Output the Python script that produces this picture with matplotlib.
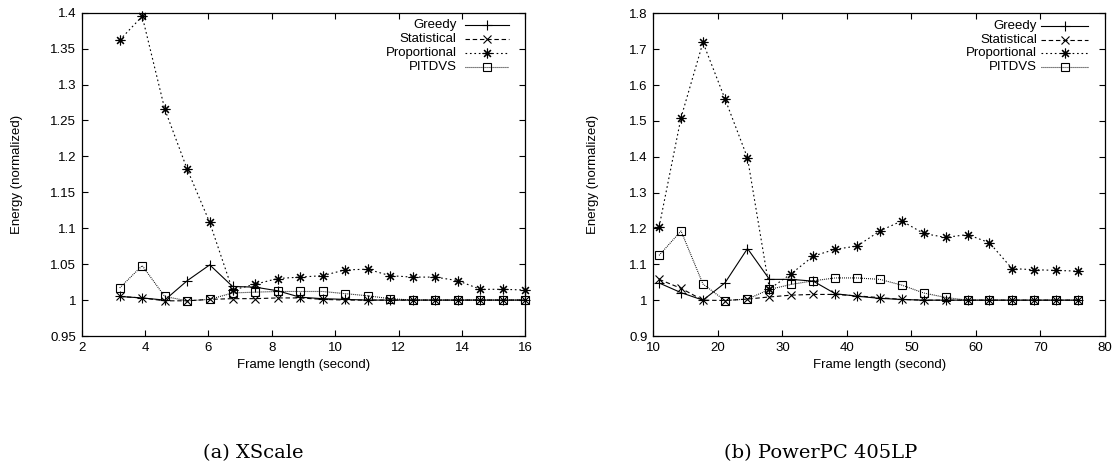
import matplotlib.pyplot as plt
from matplotlib.ticker import FuncFormatter

plt.rcParams['font.family'] = ['Liberation Sans', 'DejaVu Sans']

labels = ["Greedy", "Statistical", "Proportional", "PITDVS"]

# (a) XScale
xs_x = [3.2, 3.91, 4.62, 5.33, 6.04, 6.76, 7.47, 8.18, 8.89, 9.6,
        10.31, 11.02, 11.73, 12.44, 13.16, 13.87, 14.58, 15.29, 16.0]
xs_greedy = [1.005, 1.003, 1.0, 1.027, 1.049, 1.019, 1.018, 1.013, 1.004, 1.002,
             1.001, 1.0, 1.0, 1.0, 1.0, 1.0, 1.0, 1.0, 1.0]
xs_stat = [1.005, 1.003, 0.999, 0.999, 1.001, 1.002, 1.002, 1.003, 1.003, 1.001,
           1.0, 1.0, 1.0, 1.0, 1.0, 1.0, 1.0, 1.0, 1.0]
xs_prop = [1.362, 1.395, 1.266, 1.182, 1.108, 1.014, 1.022, 1.030, 1.032, 1.034,
           1.042, 1.043, 1.034, 1.032, 1.032, 1.027, 1.015, 1.015, 1.014]
xs_pit = [1.017, 1.048, 1.005, 0.999, 1.001, 1.010, 1.011, 1.012, 1.012, 1.012,
          1.009, 1.006, 1.002, 1.0, 1.0, 1.0, 1.0, 1.0, 1.0]

# (b) PowerPC 405LP
pp_x = [10.9, 14.3, 17.7, 21.1, 24.6, 28.0, 31.4, 34.8, 38.2, 41.6,
        45.1, 48.5, 51.9, 55.3, 58.7, 62.1, 65.6, 69.0, 72.4, 75.8]
pp_greedy = [1.048, 1.021, 1.0, 1.048, 1.144, 1.058, 1.058, 1.053, 1.018, 1.011,
             1.005, 1.002, 1.0, 1.0, 1.0, 1.0, 1.0, 1.0, 1.0, 1.0]
pp_stat = [1.058, 1.033, 1.0, 0.999, 1.003, 1.009, 1.014, 1.016, 1.016, 1.012,
           1.007, 1.002, 1.0, 1.0, 1.0, 1.0, 1.0, 1.0, 1.0, 1.0]
pp_prop = [1.204, 1.509, 1.719, 1.562, 1.397, 1.031, 1.074, 1.123, 1.142, 1.151,
           1.193, 1.221, 1.186, 1.175, 1.183, 1.160, 1.088, 1.085, 1.083, 1.081]
pp_pit = [1.125, 1.193, 1.045, 0.999, 1.003, 1.030, 1.044, 1.054, 1.062, 1.062,
          1.058, 1.042, 1.020, 1.0075, 1.0, 1.0, 1.0, 1.0, 1.0, 1.0]

styles = [
    dict(linestyle='-', marker='+', markersize=7),
    dict(linestyle=(0, (4, 2.5)), marker='x', markersize=5.5),
    dict(linestyle=(0, (1.5, 2.5)), marker=(8, 2, 0), markersize=7),
    dict(linestyle=(0, (0.8, 1.0)), marker='s', markersize=5.5,
         markerfacecolor='none'),
]

fs = 9.5


def draw_panel(ax, x, series, xlim, ylim, xticks, yticks, leg_x):
    for ys, st in zip(series, styles):
        ax.plot(x, ys, color='black', linewidth=0.8, markeredgewidth=0.8,
                clip_on=False, **st)

    # gnuplot style legend: right aligned text, sample on the right
    row_y = [0.962, 0.919, 0.876, 0.833]
    for lab, st, yy in zip(labels, styles, row_y):
        ax.text(leg_x[0], yy, lab, transform=ax.transAxes, ha='right',
                va='center', fontsize=fs)
        ax.plot([leg_x[1], leg_x[2]], [yy, yy], transform=ax.transAxes,
                color='black', linewidth=0.8,
                linestyle=st['linestyle'])
        mst = {k: v for k, v in st.items() if k != 'linestyle'}
        ax.plot([(leg_x[1] + leg_x[2]) / 2], [yy], transform=ax.transAxes,
                color='black', markeredgewidth=0.8, linestyle='none', **mst)

    ax.set_xlim(*xlim)
    ax.set_ylim(*ylim)
    ax.set_xticks(xticks)
    ax.set_yticks(yticks)
    ax.yaxis.set_major_formatter(FuncFormatter(lambda v, p: f'{v:.2f}'.rstrip('0').rstrip('.')))
    ax.tick_params(direction='in', top=True, right=True, length=4,
                   width=0.8, labelsize=fs, pad=4)
    for sp in ax.spines.values():
        sp.set_linewidth(0.9)
    ax.set_xlabel("Frame length (second)", fontsize=fs, labelpad=4)
    ax.set_ylabel("Energy (normalized)", fontsize=fs)


fig = plt.figure(figsize=(11.19, 4.71), dpi=100)

ax1 = fig.add_axes([0.073, 0.2866, 0.3965, 0.6864])
draw_panel(ax1, xs_x, [xs_greedy, xs_stat, xs_prop, xs_pit],
           (2, 16), (0.95, 1.4), range(2, 17, 2),
           [0.95 + 0.05 * i for i in range(10)],
           (0.845, 0.863, 0.962))
ax1.yaxis.set_label_coords(-0.132, 0.5)

ax2 = fig.add_axes([0.5838, 0.2866, 0.4037, 0.6850])
draw_panel(ax2, pp_x, [pp_greedy, pp_stat, pp_prop, pp_pit],
           (10, 80), (0.9, 1.8), range(10, 81, 10),
           [0.9 + 0.1 * i for i in range(10)],
           (0.849, 0.858, 0.963))
ax2.yaxis.set_label_coords(-0.12, 0.5)

fig.text(253 / 1119, 1 - 453 / 471, "(a) XScale", ha='center', va='center',
         fontsize=14, family=['DejaVu Serif'])
fig.text(821 / 1119, 1 - 453 / 471, "(b) PowerPC 405LP", ha='center',
         va='center', fontsize=14, family=['DejaVu Serif'])

fig.savefig("out.png", dpi=100)
